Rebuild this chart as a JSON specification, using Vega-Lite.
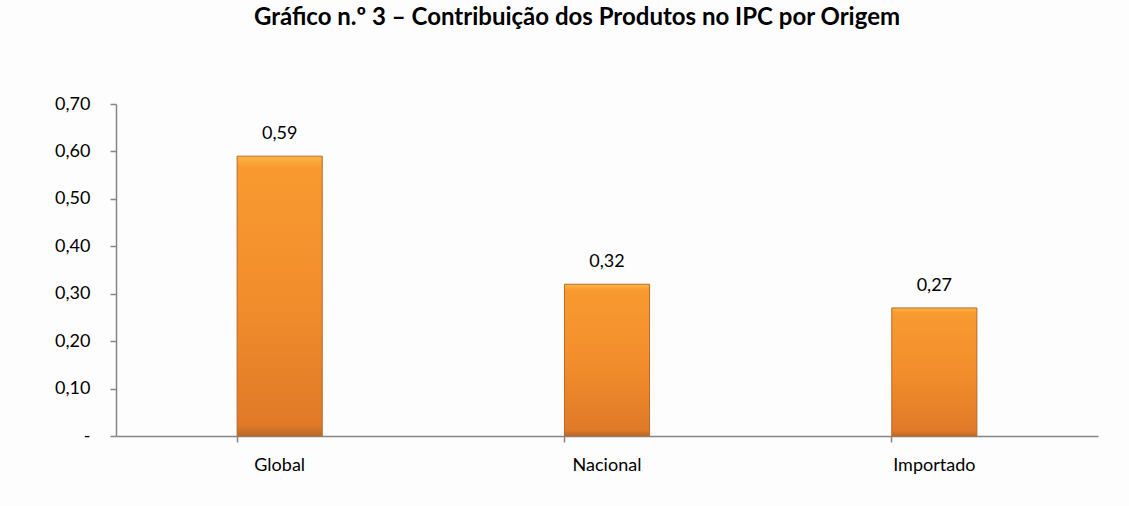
{
  "$schema": "https://vega.github.io/schema/vega-lite/v6.json",
  "autosize": "none",
  "width": 982,
  "height": 332,
  "padding": {"left": 116, "top": 104, "right": 31, "bottom": 70},
  "background": "#fdfdfd",
  "title": {
    "text": "Gráfico n.º 3 – Contribuição dos Produtos no IPC por Origem",
    "font": "Lato",
    "fontSize": 24,
    "fontWeight": "bold",
    "color": "#000000",
    "anchor": "middle",
    "frame": "group",
    "baseline": "alphabetic",
    "offset": 46,
    "dx": -30
  },
  "data": {
    "values": [
      {"origem": "Global", "valor": 0.59},
      {"origem": "Nacional", "valor": 0.32},
      {"origem": "Importado", "valor": 0.27}
    ]
  },
  "encoding": {
    "x": {
      "field": "origem",
      "type": "nominal",
      "sort": null,
      "scale": {"paddingInner": 0.74, "paddingOuter": 0.37},
      "axis": {
        "title": null,
        "labelAngle": 0,
        "labelFont": "Lato",
        "labelFontSize": 18,
        "labelColor": "#000000",
        "labelPadding": 14,
        "bandPosition": 0,
        "tickSize": 6,
        "tickColor": "#868686",
        "domainColor": "#868686",
        "domainWidth": 1.5,
        "tickWidth": 1.5,
        "grid": false
      }
    },
    "y": {
      "field": "valor",
      "type": "quantitative",
      "scale": {"domain": [0, 0.7], "nice": false},
      "axis": {
        "title": null,
        "values": [0, 0.1, 0.2, 0.3, 0.4, 0.5, 0.6, 0.7],
        "labelExpr": "datum.value == 0 ? '-' : replace(format(datum.value, '.2f'), '.', ',')",
        "labelFont": "Lato",
        "labelFontSize": 18,
        "labelColor": "#000000",
        "labelPadding": 20,
        "tickSize": 6,
        "tickColor": "#868686",
        "domainColor": "#868686",
        "domainWidth": 1.5,
        "tickWidth": 1.5,
        "grid": false
      }
    }
  },
  "layer": [
    {
      "mark": {
        "type": "bar",
        "stroke": "#b8692a",
        "strokeWidth": 1,
        "color": {
          "gradient": "linear",
          "x1": 0, "y1": 0, "x2": 0, "y2": 1,
          "stops": [
            {"offset": 0, "color": "#fbb545"},
            {"offset": 0.04, "color": "#f89a30"},
            {"offset": 0.5, "color": "#f28e2c"},
            {"offset": 0.96, "color": "#e07a28"},
            {"offset": 1, "color": "#b8692a"}
          ]
        }
      }
    },
    {
      "mark": {
        "type": "text",
        "baseline": "alphabetic",
        "dy": -17,
        "font": "Lato",
        "fontSize": 18,
        "color": "#000000"
      },
      "encoding": {
        "text": {"field": "valor", "type": "quantitative", "format": ".2f", "formatType": "number"}
      }
    }
  ],
  "config": {
    "view": {"stroke": null},
    "locale": {"number": {"decimal": ",", "thousands": ".", "grouping": [3], "currency": ["", " €"]}}
  }
}
